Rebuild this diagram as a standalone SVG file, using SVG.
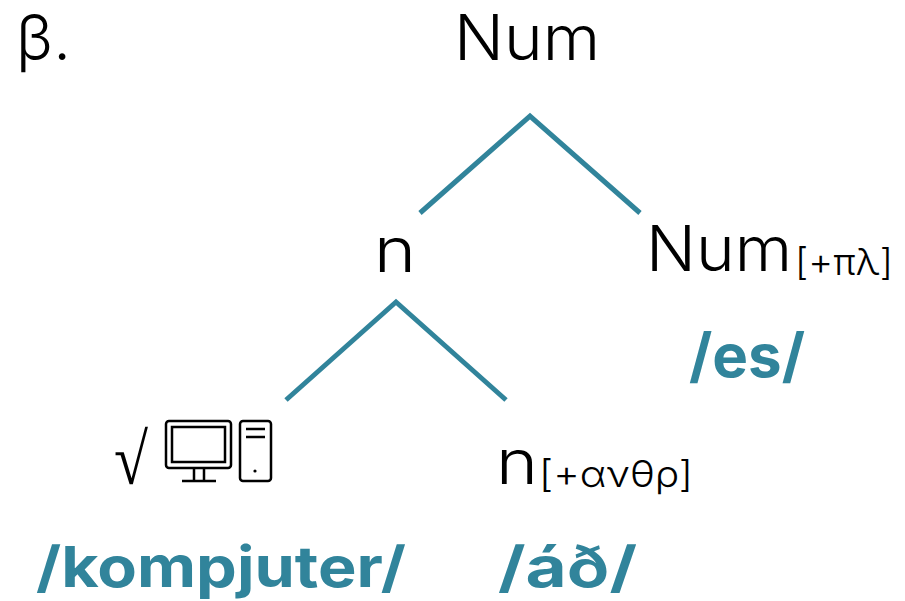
<svg xmlns="http://www.w3.org/2000/svg" width="905" height="601" viewBox="0 0 905 601">
<style>
text{font-family:"Inter","Noto Sans","DejaVu Sans",sans-serif;fill:#000}
.m{font-size:63px;font-weight:300}
.s{font-size:37px;font-weight:300}
.b{font-size:60px;font-weight:700;fill:#31849b}
.l{font-size:56px}
.r{font-family:"Liberation Serif",serif;font-size:72px}
.c{fill:none;stroke:#31849b;stroke-width:5}
.i{fill:none;stroke:#000;stroke-width:2.5}
</style>
<rect width="905" height="601" fill="#fff"/>
<g id="connectors">
<path class="c" d="M420 213L530 116L640 213"/>
<path class="c" d="M286 400L396 302L506 400"/>
</g>
<g id="label-beta"><text class="m" x="16" y="60" textLength="55" lengthAdjust="spacingAndGlyphs">β.</text></g>
<g id="node-num-root"><text class="m" x="454" y="60" textLength="146" lengthAdjust="spacingAndGlyphs">Num</text></g>
<g id="node-n"><text class="m" x="374" y="272" textLength="42" lengthAdjust="spacingAndGlyphs">n</text></g>
<g id="node-num-pl"><text class="m" x="646" y="271" textLength="146" lengthAdjust="spacingAndGlyphs">Num</text><text class="s" x="795" y="275" textLength="98" lengthAdjust="spacingAndGlyphs">[+πλ]</text><text class="b" x="689" y="377" textLength="116" lengthAdjust="spacingAndGlyphs">/es/</text></g>
<g id="node-root"><text class="r" x="114" y="484" textLength="34" lengthAdjust="spacingAndGlyphs">√</text>
<g id="computer-icon"><rect class="i" x="166" y="421" width="65" height="47" rx="3"/><rect class="i" x="172" y="427" width="53" height="35"/><path class="i" d="M194 468V481M204 468V481M182 481H216"/><rect class="i" x="240" y="421" width="31" height="60" rx="3"/><path class="i" d="M246 429H265M246 437H265"/><circle cx="255" cy="471" r="1.6"/></g>
<text class="b l" x="36" y="587" textLength="370" lengthAdjust="spacingAndGlyphs">/kompjuter/</text></g>
<g id="node-n-an"><text class="m" x="496" y="484" textLength="42" lengthAdjust="spacingAndGlyphs">n</text><text class="s" x="539" y="487" textLength="154" lengthAdjust="spacingAndGlyphs">[+ανθρ]</text><text class="b l" x="498" y="587" textLength="139" lengthAdjust="spacingAndGlyphs">/áð/</text></g>
</svg>
